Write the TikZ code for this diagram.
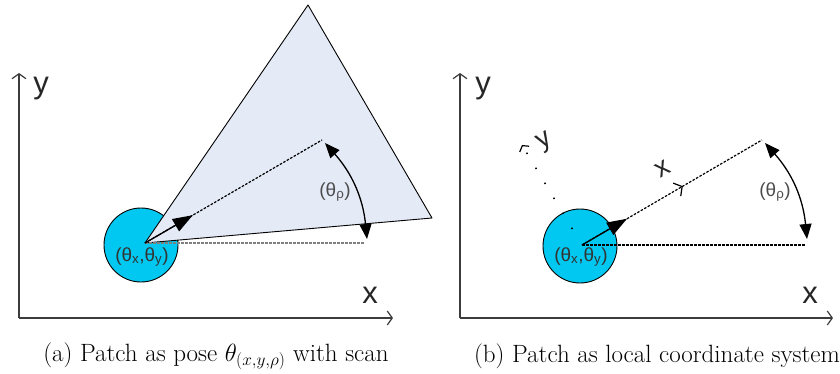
\documentclass[tikz,border=0pt]{standalone}
\usepackage{fontspec}
\newfontfamily\lab{Liberation Sans}
\usetikzlibrary{arrows.meta,calc}
\definecolor{cyanfill}{RGB}{0,200,240}
\definecolor{scanfill}{RGB}{228,234,246}
\definecolor{axisgray}{RGB}{60,60,60}
\begin{document}
\begin{tikzpicture}[x=1pt,y=-1pt,
  axis/.style={draw=axisgray,line width=1.4pt,-{Straight Barb[length=5pt,width=14pt,line width=1.2pt]}},
  axlab/.style={inner sep=0pt,font=\lab\fontsize{31}{31}\selectfont,text=black!85},
  poselab/.style={inner sep=0pt,font=\lab\fontsize{19}{19}\selectfont,text=black!80},
  anglab/.style={inner sep=0pt,font=\lab\fontsize{19}{19}\selectfont,text=black!70},
  robot/.style={circle,draw=black,line width=0.9pt,fill=cyanfill,minimum size=74pt,inner sep=0pt},
  dashln/.style={line width=1.2pt,dash pattern=on 2.5pt off 1.5pt},
  vec/.style={line width=1.3pt,-{Triangle[length=20pt,width=14pt]}},
  angarr/.style={line width=1.3pt,{Triangle[length=15pt,width=12pt]}-{Triangle[length=15pt,width=12pt]}},
  caption/.style={inner sep=0pt,font=\fontsize{25}{28}\selectfont}
]
\useasboundingbox (0,0) rectangle (840,374);

% ---------- panel (a) ----------
\coordinate (O1) at (19,318);
\coordinate (Y1) at (19,73);
\coordinate (X1) at (393,318);
\draw[axis] (O1) -- (Y1);
\draw[axis] (O1) -- (X1);
\node[axlab] (ylab1) at (41,89) {y};
\node[axlab] (xlab1) at (370,295) {x};

\node[robot] (R1) at (141,245) {};
\coordinate (A1) at (145,243);
\coordinate (P1) at (308,5);
\coordinate (Q1) at (432,218);
\draw[line width=0.9pt,fill=scanfill,line join=round] (A1) -- (P1) -- (Q1) -- cycle;

\coordinate (T1) at (322,140);
\coordinate (H1) at (365,243);
\draw[draw=black!50,dashln] (A1) -- (H1);
\draw[dashln] (A1) -- (T1);
\draw[vec] (A1) -- ($(A1)!0.27!(T1)$);
\coordinate (U1) at (325,143);
\coordinate (D1) at (367,239);
\draw[angarr] (U1) to[bend left=18] (D1);
\node[anglab] (ang1) at (335,192) {(θ\textsubscript{ρ})};
\node[poselab] (pose1) at (142,257) {(θ\textsubscript{x},θ\textsubscript{y})};

% ---------- panel (b) ----------
\coordinate (O2) at (460,318);
\coordinate (Y2) at (460,73);
\coordinate (X2) at (833,318);
\draw[axis] (O2) -- (Y2);
\draw[axis] (O2) -- (X2);
\node[axlab] (ylab2) at (483,89) {y};
\node[axlab] (xlab2) at (810,295) {x};

\node[robot] (R2) at (580,246) {};
\coordinate (A2) at (582,245);
\coordinate (T2) at (762,140);
\coordinate (H2) at (806,245);
\coordinate (XB) at ($(A2)!0.56!(T2)$);
\coordinate (YE) at (522,145);
\draw[dashln] (A2) -- (H2);
\draw[dashln] (A2) -- (T2);
\draw[line width=1pt,-{Straight Barb[length=6pt,width=15pt,line width=1.2pt]}] ($(A2)!0.555!(T2)$) -- (XB);
\draw[line width=1.5pt,dash pattern=on 1.5pt off 16pt,-{Straight Barb[length=4pt,width=11pt,line width=1.2pt]}] ($(A2)!0.16!(YE)$) -- (YE);
\draw[vec] (A2) -- ($(A2)!0.25!(T2)$);
\node[axlab,rotate=30,font=\lab\fontsize{27}{27}\selectfont] (xloc) at (663,169) {x};
\node[axlab,rotate=30,font=\lab\fontsize{27}{27}\selectfont] (yloc) at (545,142) {y};
\coordinate (U2) at (765,143);
\coordinate (D2) at (807,239);
\draw[angarr] (U2) to[bend left=18] (D2);
\node[anglab] (ang2) at (775,192) {(θ\textsubscript{ρ})};
\node[poselab] (pose2) at (581,257) {(θ\textsubscript{x},θ\textsubscript{y})};

% ---------- captions ----------
\node[caption] (capa) at (216,356) {(a) Patch as pose $\theta_{(x,y,\rho)}$ with scan};
\node[caption] (capb) at (657,356) {(b) Patch as local coordinate system};
\end{tikzpicture}
\end{document}
